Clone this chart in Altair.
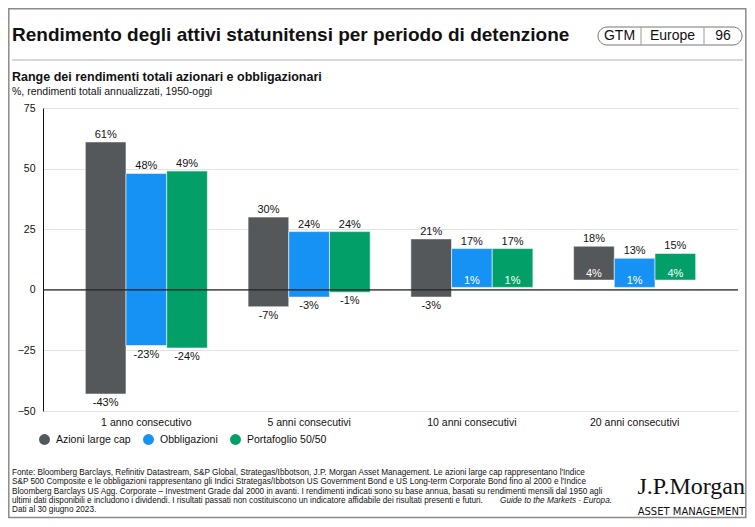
import altair as alt
import pandas as pd

periods = ["1 anno consecutivo", "5 anni consecutivi", "10 anni consecutivi", "20 anni consecutivi"]
series = ["Azioni large cap", "Obbligazioni", "Portafoglio 50/50"]
colors = ["#55585B", "#1691F4", "#02A068"]

max_large = [61, 30, 21, 18]
min_large = [-43, -7, -3, 4]
max_bond = [48, 24, 17, 13]
min_bond = [-23, -3, 1, 1]
max_mix = [49, 24, 17, 15]
min_mix = [-24, -1, 1, 4]

y_ticks = [-50, -25, 0, 25, 50, 75]

title_text = "Rendimento degli attivi statunitensi per periodo di detenzione"
subtitle_text = "Range dei rendimenti totali azionari e obbligazionari"
unit_text = "%, rendimenti totali annualizzati, 1950-oggi"
badge = ["GTM", "Europe", "96"]
foot_lines = [
    "Fonte: Bloomberg Barclays, Refinitiv Datastream, S&P Global, Strategas/Ibbotson, J.P. Morgan Asset Management. Le azioni large cap rappresentano l'Indice",
    "S&P 500 Composite e le obbligazioni rappresentano gli Indici Strategas/Ibbotson US Government Bond e US Long-term Corporate Bond fino al 2000 e l'Indice",
    "Bloomberg Barclays US Agg. Corporate – Investment Grade dal 2000 in avanti. I rendimenti indicati sono su base annua, basati su rendimenti mensili dal 1950 agli",
    "ultimi dati disponibili e includono i dividendi.  I risultati passati non costituiscono un indicatore affidabile dei risultati presenti e futuri.",
    "Dati al 30 giugno 2023.",
]
foot_italic = "Guide to the Markets - Europa."

rows = []
for s, mx, mn in zip(series, [max_large, max_bond, max_mix], [min_large, min_bond, min_mix]):
    for p, hi, lo in zip(periods, mx, mn):
        rows.append({"period": p, "series": s, "hi": hi, "lo": lo,
                     "hi_lbl": f"{hi}%", "lo_lbl": f"{lo}%"})
df = pd.DataFrame(rows)

FONT = "Liberation Sans"
TXT = "#111111"

xenc = alt.X("period:N", sort=periods, title=None,
             scale=alt.Scale(paddingInner=0.25, paddingOuter=0.26),
             axis=alt.Axis(labelFontSize=10.5, labelColor=TXT, labelFont=FONT, labelPadding=6,
                           ticks=False, domain=False, labelAngle=0, grid=False))
xoff = alt.XOffset("series:N", sort=series, scale=alt.Scale(paddingInner=0, paddingOuter=0))
yscale = alt.Scale(domain=[-50, 75], nice=False, zero=False)
yaxis = alt.Axis(values=y_ticks, ticks=False, domain=True, domainColor="#111111",
                 domainWidth=1, labelFontSize=10.5, labelColor=TXT, labelFont=FONT,
                 labelPadding=8, grid=True, gridColor="#e3e3e3", gridWidth=1)


def yenc(field):
    return alt.Y(field, scale=yscale, title=None, axis=yaxis)


base = alt.Chart(df).encode(x=xenc, xOffset=xoff)

bars = base.mark_bar(stroke="white", strokeWidth=1, strokeOpacity=0.55).encode(
    y=yenc("lo:Q"),
    y2="hi:Q",
    color=alt.Color("series:N", sort=series, scale=alt.Scale(domain=series, range=colors),
                    legend=alt.Legend(title=None, orient="none", legendX=-4, legendY=326,
                                      direction="horizontal", symbolType="circle", symbolSize=120,
                                      symbolStrokeWidth=0, labelFontSize=10.5, labelFont=FONT,
                                      labelColor=TXT, labelOffset=6, columnPadding=12, padding=0)),
)

top_lbl = base.mark_text(baseline="bottom", dy=-2, fontSize=11, font=FONT, color=TXT).encode(
    y=yenc("hi:Q"), text="hi_lbl:N")
neg_lbl = base.transform_filter("datum.lo < 0").mark_text(
    baseline="top", dy=3, fontSize=11, font=FONT, color=TXT).encode(
    y=yenc("lo:Q"), text="lo_lbl:N")
pos_lbl = base.transform_filter("datum.lo > 0").mark_text(
    baseline="bottom", dy=-1, fontSize=11, font=FONT, color="white").encode(
    y=yenc("lo:Q"), text="lo_lbl:N")

zero = alt.Chart(pd.DataFrame({"lo": [0]})).mark_rule(color="#222222", strokeWidth=1.2).encode(
    y=yenc("lo:Q"))

one = pd.DataFrame({"a": [0]})


def txt(text, x, y, size, weight="normal", align="left", font=FONT, color=TXT, style="normal", baseline="middle"):
    return alt.Chart(one).mark_text(align=align, baseline=baseline, fontSize=size, fontWeight=weight,
                                    font=font, color=color, fontStyle=style).encode(
        x=alt.value(x), y=alt.value(y), text=alt.value(text))


frame = alt.Chart(one).mark_rect(fill=None, stroke="#8a8a8a", strokeWidth=1.5).encode(
    x=alt.value(-34.2), x2=alt.value(702.8), y=alt.value(-99.2), y2=alt.value(409.5))
hline = alt.Chart(one).mark_rule(color="#b0b0b0", strokeWidth=1).encode(
    x=alt.value(-31), x2=alt.value(700), y=alt.value(-48))
box = alt.Chart(one).mark_rect(fill=None, stroke="#777777", strokeWidth=1, cornerRadius=9).encode(
    x=alt.value(555), x2=alt.value(699), y=alt.value(-81), y2=alt.value(-63))
div1 = alt.Chart(one).mark_rule(color="#999999").encode(x=alt.value(598), y=alt.value(-81), y2=alt.value(-63))
div2 = alt.Chart(one).mark_rule(color="#999999").encode(x=alt.value(661), y=alt.value(-81), y2=alt.value(-63))

layers = [frame, hline, box, div1, div2,
          txt(title_text, -31, -73, 19, weight="bold"),
          txt(badge[0], 576.5, -72, 14, align="center"),
          txt(badge[1], 629.5, -72, 14, align="center"),
          txt(badge[2], 680, -72, 14, align="center"),
          txt(subtitle_text, -31, -31, 12.5, weight="bold"),
          txt(unit_text, -31, -16, 10.5),
          ]
for i, line in enumerate(foot_lines):
    layers.append(txt(line, -31, 365 + 9.3 * i, 8.2))
layers.append(txt(foot_italic, 569, 365 + 9.3 * 3, 8.2, align="right", style="italic"))
layers.append(txt("J.P.Morgan", 702, 379, 24, align="right", font="Liberation Serif"))
layers.append(txt("ASSET MANAGEMENT", 702, 404, 10, align="right", font="DejaVu Sans"))

chart = alt.layer(bars, zero, top_lbl, neg_lbl, pos_lbl, *layers).properties(
    width=695, height=303,
    autosize=alt.AutoSizeParams(type="none"),
    padding={"left": 35, "top": 100, "right": 9, "bottom": 108},
    background="white",
).configure_view(stroke=None)

chart.save("out.html", embed_options={"renderer": "svg", "actions": False})
